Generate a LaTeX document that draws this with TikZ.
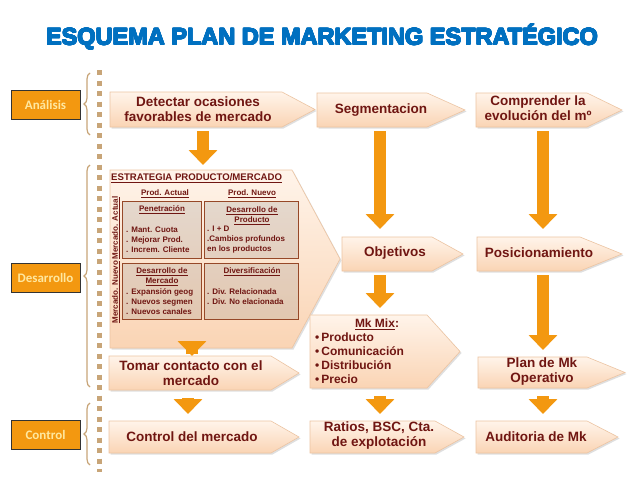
\documentclass[tikz,border=0pt]{standalone}
\usepackage{fontspec}
\usepackage[copies]{contour}
\setmainfont{Liberation Sans}
\newfontfamily\titulo{Liberation Sans Bold}
\newfontfamily\calibri{Carlito}
\usetikzlibrary{arrows.meta,shadows,decorations.pathreplacing}
\contourlength{0.5pt}
\contournumber{16}

\definecolor{azul}{RGB}{0,112,192}
\definecolor{granate}{RGB}{112,22,18}
\definecolor{naranja}{RGB}{243,152,16}
\definecolor{crema}{RGB}{255,232,160}
\definecolor{melocoton}{RGB}{250,212,180}
\definecolor{melocotonclaro}{RGB}{255,244,234}
\definecolor{borde}{RGB}{236,196,162}
\definecolor{tostado}{RGB}{200,165,120}
\definecolor{marron}{RGB}{150,72,40}

% caja en forma de flecha: nombre, izq, arriba, hombro, abajo, punta
\newcommand\caja[6]{%
  \draw[caja] (#2,#3) -- (#4,#3) -- (#6,{(#3+#5)/2}) -- (#4,#5) -- (#2,#5) -- cycle;
  \node[cuerpo, minimum width={(#4-#2)*1pt}, minimum height={(#5-#3)*1pt}] (#1) at ({(#2+#4)/2},{(#3+#5)/2}) {};}

\begin{document}
\begin{tikzpicture}[x=1pt,y=-1pt,
  caja/.style={draw=borde, line width=0.6pt, top color=melocotonclaro, bottom color=melocoton,
    drop shadow={opacity=0.25,shadow xshift=1.5pt,shadow yshift=-1.5pt}},
  cuerpo/.style={inner sep=0pt, outer sep=0pt},
  texto/.style={text=granate, font=\bfseries\fontsize{13.5}{15}\selectfont, align=center, inner sep=0pt},
  chico/.style={text=granate, font=\bfseries\fontsize{8}{10}\selectfont, inner sep=0pt},
  interior/.style={draw=marron, line width=0.7pt, inner sep=0pt,
    drop shadow={opacity=0.2,shadow xshift=1pt,shadow yshift=-1pt}},
  etapa/.style={draw=black!80, line width=0.8pt, fill=naranja, text=crema,
    font=\calibri\bfseries\fontsize{13}{15}\selectfont, minimum width=69pt, minimum height=29pt},
  llave/.style={draw=tostado, line width=1.2pt, decorate, decoration={brace,amplitude=6pt}},
  flujo/.style={draw=naranja, line width=12pt, -{Triangle[width=28pt,length=15pt]}, shorten <=4pt, shorten >=7pt}]

\fill[white] (0,0) rectangle (638,479);
\useasboundingbox (0,0) rectangle (638,479);

\node[text=azul, font=\titulo\fontsize{23.5}{26}\selectfont] (titulo) at (322,37) {\contour{azul}{ESQUEMA PLAN DE MARKETING ESTRATÉGICO}};

% etapas
\node[etapa] (analisis) at (45.5,105) {Análisis};
\node[etapa] (desarrollo) at (45.5,277.5) {Desarrollo};
\node[etapa] (control) at (45.5,434.5) {Control};
\draw[llave] (90,135) -- (90,73);
\draw[llave] (90,387) -- (90,165);
\draw[llave] (90,465) -- (90,403);
\draw[tostado, line width=5pt, dash pattern=on 5pt off 5.5pt] (99,70) -- (99,472);

% cajas
\caja{det}{110}{92}{282}{127}{315}
\caja{seg}{317}{93}{427}{127}{465}
\caja{comp}{476}{93}{587}{127}{622}
\caja{est}{110}{170}{292}{348}{340}
\caja{obj}{342}{237}{432}{271}{463}
\caja{pos}{477}{237}{580}{271}{622}
\caja{mix}{310}{315}{427}{388}{460}
\caja{plan}{478}{357}{587}{388}{625}
\caja{tomar}{109}{356}{271}{390}{299}
\caja{cmer}{109}{421}{271}{453}{299}
\caja{ratios}{310}{421}{435}{453}{464}
\caja{audi}{476}{421}{587}{453}{618}

\node[texto] (tdet) at (198,109.5) {Detectar ocasiones\\favorables de mercado};
\node[texto] (tseg) at (381,110) {Segmentacion};
\node[texto] (tcomp) at (538,108.5) {Comprender la\\evolución del mº};
\node[texto] (tobj) at (395,253) {Objetivos};
\node[texto] (tpos) at (539,253) {Posicionamiento};
\node[texto] (tplan) at (542,371.5) {Plan de Mk\\Operativo};
\node[texto] (ttomar) at (191,373.5) {Tomar contacto con el\\mercado};
\node[texto] (tcmer) at (192,437) {Control del mercado};
\node[texto] (tratios) at (379,435.5) {Ratios, BSC, Cta.\\de explotación};
\node[texto] (taudi) at (536,437) {Auditoria de Mk};
\node[texto, font=\bfseries\fontsize{12}{14}\selectfont] (tmix) at (377,324) {\underline{Mk Mix}:};
\node[texto, font=\bfseries\fontsize{12}{14}\selectfont, align=left, anchor=west] (lmix) at (315,358)
  {\textbullet\,Producto\\\textbullet\,Comunicación\\\textbullet\,Distribución\\\textbullet\,Precio};

% matriz producto/mercado
\node[text=granate, font=\bfseries\fontsize{9.6}{11}\selectfont, anchor=west, inner sep=0pt] (test) at (111,178) {\underline{ESTRATEGIA PRODUCTO/MERCADO}};
\node[chico] (pact) at (165,194) {\underline{Prod. Actual}};
\node[chico] (pnue) at (252,194) {\underline{Prod. Nuevo}};
\node[chico, rotate=90] (mact) at (116,228) {\underline{Mercado. Actual}};
\node[chico, rotate=90] (mnue) at (116,292) {\underline{Mercado. Nuevo}};

\node[interior, minimum width=79pt, minimum height=57pt] (pen) at (161.5,229.5) {};
\node[interior, minimum width=94pt, minimum height=57pt] (dprod) at (251,229.5) {};
\node[interior, minimum width=79pt, minimum height=56pt] (dmer) at (161.5,291) {};
\node[interior, minimum width=94pt, minimum height=56pt] (div) at (251,291) {};

\node[chico] at (162,210) {\underline{Penetración}};
\node[chico, align=left, anchor=west] at (126,240) {. Mant. Cuota\\. Mejorar Prod.\\. Increm. Cliente};
\node[chico, align=center] at (252,215.5) {\underline{Desarrollo de}\\\underline{Producto}};
\node[chico, align=left, anchor=west] at (207,240) {. I + D\\.Cambios profundos\\en los productos};
\node[chico, align=center] at (162,277) {\underline{Desarrollo de}\\\underline{Mercado}};
\node[chico, align=left, anchor=west] at (126,302) {. Expansión geog\\. Nuevos segmen\\. Nuevos canales};
\node[chico] at (252,272) {\underline{Diversificación}};
\node[chico, align=left, anchor=west] at (207,297) {. Div. Relacionada\\. Div. No elacionada};

% flechas
\path ([xshift=7pt]det.south) coordinate (f1);
\draw[flujo, shorten >=5pt] (f1) -- (f1 |- est.north);
\path ([xshift=8pt]seg.south) coordinate (f2);
\draw[flujo, shorten >=8pt] (f2) -- (f2 |- obj.north);
\path ([xshift=11.5pt]comp.south) coordinate (f3);
\draw[flujo, shorten >=8pt] (f3) -- (f3 |- pos.north);
\path ([xshift=-7pt]obj.south) coordinate (f4);
\draw[flujo] (f4) -- (f4 |- mix.north);
\path ([xshift=14.5pt]pos.south) coordinate (f5);
\draw[flujo] (f5) -- (f5 |- plan.north);
\path ([xshift=-9pt]est.south) coordinate (f6);
\draw[flujo, shorten <=-6pt, shorten >=0pt] (f6) -- (f6 |- tomar.north);
\path ([xshift=-2pt]tomar.south) coordinate (f7);
\draw[flujo, shorten <=8pt] (f7) -- (f7 |- cmer.north);
\path ([xshift=11.5pt]mix.south) coordinate (f8);
\draw[flujo, shorten <=8pt] (f8) -- (f8 |- ratios.north);
\path ([xshift=10.5pt]plan.south) coordinate (f9);
\draw[flujo, shorten <=8pt] (f9) -- (f9 |- audi.north);
\end{tikzpicture}
\end{document}
